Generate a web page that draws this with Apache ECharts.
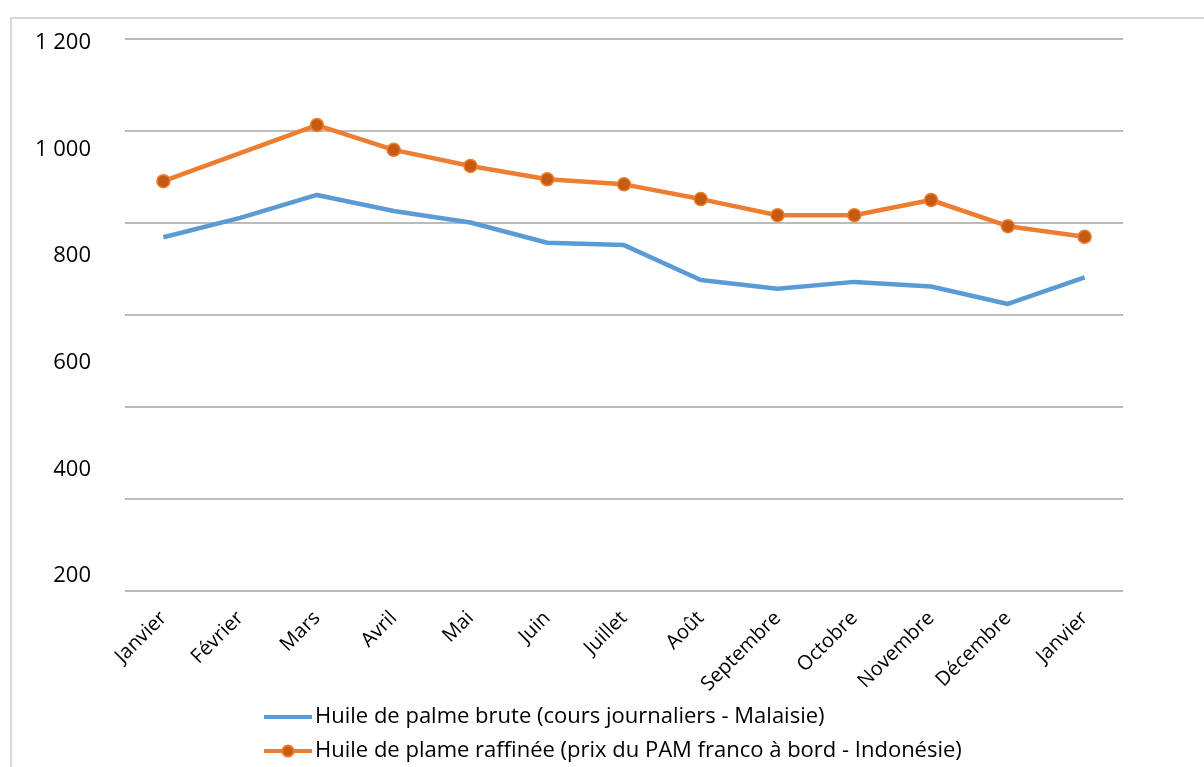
<!DOCTYPE html>
<html>
<head>
<meta charset="utf-8">
<script src="https://cdn.jsdelivr.net/npm/echarts@6/dist/echarts.min.js"></script>
<style>
  html, body { margin: 0; padding: 0; background: #fff; }
  #chart { width: 1204px; height: 767px; }
  /* cadre gris du graphique */
  .frame { position: absolute; left: 10px; top: 17px; width: 1300px; height: 900px;
           border-left: 2px solid #d9d9d9; border-top: 2px solid #d9d9d9; pointer-events: none; }
</style>
</head>
<body>
<div id="chart"></div>
<div class="frame"></div>
<script>
// mois (axe des catégories)
const months = ["Janvier", "Février", "Mars", "Avril", "Mai", "Juin", "Juillet",
  "Août", "Septembre", "Octobre", "Novembre", "Décembre", "Janvier"];

// huile de palme brute - Malaisie
const brute = [769, 811, 861, 826, 801, 757, 752, 676, 657, 672, 662, 624, 682];
// huile de palme raffinée - Indonésie (pas de valeur en février)
const raffinee = [891, null, 1013, 959, 924, 895, 884, 852, 817, 817, 850, 793, 770];

const seriesNames = [
  "Huile de palme brute (cours journaliers - Malaisie)",
  "Huile de plame raffinée (prix du PAM franco à bord - Indonésie)",
];

const font = "Open Sans";
const chart = echarts.init(document.getElementById("chart"));

chart.setOption({
  animation: false,
  textStyle: { fontFamily: font },
  grid: [
    { left: 125, right: 81, top: 39, bottom: 176 },
    // grille "fantôme" qui porte seulement les étiquettes de l'axe Y (décalées comme dans l'original)
    { left: 125, right: 81, top: 43, bottom: 191 },
  ],
  legend: {
    orient: "vertical",
    left: 262,
    top: 706,
    padding: 0,
    itemGap: 12,
    itemWidth: 48,
    itemHeight: 14,
    lineStyle: { width: 4 },
    textStyle: { fontFamily: font, fontSize: 22, color: "#000", padding: [0, 0, 0, -2] },
    data: [
      { name: seriesNames[0], itemStyle: { opacity: 0 } },
      { name: seriesNames[1] },
    ],
  },
  xAxis: [
    {
      type: "category",
      gridIndex: 0,
      data: months,
      axisLine: { show: false },
      axisTick: { show: false },
      axisLabel: {
        rotate: 45,
        interval: 0,
        margin: 24,
        fontSize: 20,
        color: "#000",
        fontFamily: font,
      },
    },
    { type: "category", gridIndex: 1, data: months, show: false },
  ],
  yAxis: [
    {
      type: "value",
      gridIndex: 0,
      min: 0,
      max: 1200,
      interval: 200,
      axisLabel: { show: false },
      axisLine: { show: false },
      axisTick: { show: false },
      splitLine: { lineStyle: { color: "#a6a6a6", width: 1.5 } },
    },
    {
      type: "value",
      gridIndex: 1,
      min: 200,
      max: 1200,
      interval: 200,
      axisLine: { show: false },
      axisTick: { show: false },
      splitLine: { show: false },
      axisLabel: {
        margin: 34,
        fontSize: 22,
        color: "#000",
        fontFamily: font,
        formatter: (v) => (v >= 1000 ? Math.floor(v / 1000) + " " + String(v % 1000).padStart(3, "0") : String(v)),
      },
    },
  ],
  series: [
    {
      name: seriesNames[0],
      type: "line",
      xAxisIndex: 0,
      yAxisIndex: 0,
      data: brute,
      symbol: "none",
      lineStyle: { color: "#5b9bd5", width: 4.5 },
      itemStyle: { color: "#5b9bd5" },
    },
    {
      name: seriesNames[1],
      type: "line",
      xAxisIndex: 0,
      yAxisIndex: 0,
      data: raffinee,
      connectNulls: true,
      symbol: "circle",
      symbolSize: 13,
      lineStyle: { color: "#ed7d31", width: 4.5 },
      itemStyle: { color: "#c55a11", borderColor: "#ed7d31", borderWidth: 1.5 },
    },
  ],
});
</script>
</body>
</html>
